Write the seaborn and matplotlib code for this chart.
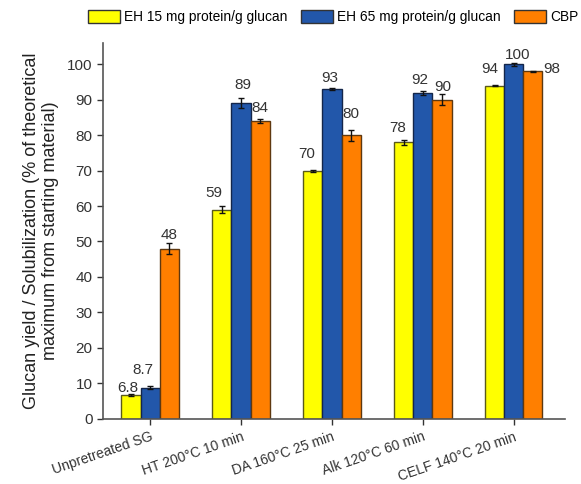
import numpy as np
import pandas as pd
import matplotlib
matplotlib.use("Agg")
import matplotlib.pyplot as plt
from matplotlib.patches import Patch
import seaborn as sns

# Pretreatment conditions (x categories)
conditions = ["Unpretreated SG", "HT 200\u00b0C 10 min", "DA 160\u00b0C 25 min",
              "Alk 120\u00b0C 60 min", "CELF 140\u00b0C 20 min"]
series = ["EH 15 mg protein/g glucan", "EH 65 mg protein/g glucan", "CBP"]

# Glucan yield / solubilization (% of theoretical maximum)
eh15 = [6.8, 59, 70, 78, 94]
eh65 = [8.7, 89, 93, 92, 100]
cbp = [48, 84, 80, 90, 98]

# Standard deviations
eh15_err = [0.3, 0.9, 0.3, 0.7, 0.2]
eh65_err = [0.4, 1.4, 0.3, 0.6, 0.5]
cbp_err = [1.5, 0.5, 1.6, 1.6, 0.2]

# Value labels as printed above the bars
eh15_lbl = ["6.8", "59", "70", "78", "94"]
eh65_lbl = ["8.7", "89", "93", "92", "100"]
cbp_lbl = ["48", "84", "80", "90", "98"]

palette = ["#FFFF00", "#2257AA", "#FF7F00"]
edges = ["#5A5A1A", "#14264A", "#5E3810"]

# Label offsets in pixels (dx, dy) relative to the top of each error bar
eh15_off = [(-3, 6), (-8, 13), (-6, 16), (-6, 12), (-5, 16)]
eh65_off = [(-7, 16), (2, 13), (-2, 10), (-3, 11), (4, 8)]
cbp_off = [(0, 8), (0, 11), (0, 16), (1, 7), (19, 2)]

df = pd.DataFrame({
    "condition": conditions * 3,
    "series": [series[0]] * 5 + [series[1]] * 5 + [series[2]] * 5,
    "value": eh15 + eh65 + cbp,
})

plt.rcParams["font.family"] = ["Liberation Sans", "DejaVu Sans"]
fig = plt.figure(figsize=(5.81, 4.84), dpi=100)
ax = fig.add_axes([0.177, 0.135, 0.795, 0.776])

sns.barplot(data=df, x="condition", y="value", hue="series", order=conditions,
            hue_order=series, palette=palette, width=0.63, errorbar=None,
            saturation=1, ax=ax, legend=False, linewidth=1.0)

errs = [eh15_err, eh65_err, cbp_err]
lbls = [eh15_lbl, eh65_lbl, cbp_lbl]
offs = [eh15_off, eh65_off, cbp_off]
bar_groups = list(ax.containers)[:3]
for k, cont in enumerate(bar_groups):
    for i, bar in enumerate(cont.patches):
        bar.set_edgecolor(edges[k])
        cx = bar.get_x() + bar.get_width() / 2
        h = bar.get_height()
        ax.errorbar(cx, h, yerr=errs[k][i], fmt="none", ecolor="#111111",
                    elinewidth=1.0, capsize=2.5, capthick=1.0, zorder=5)
        dx, dy = offs[k][i]
        ax.annotate(lbls[k][i], (cx, h + errs[k][i]), xytext=(dx, dy),
                    textcoords="offset pixels", ha="center", va="center",
                    fontsize=11, color="#333333")

ax.set_xlim(-0.52, 4.56)
ax.set_ylim(0, 106)
ax.set_yticks(np.arange(0, 101, 10))
ax.set_xlabel("")
ax.set_ylabel("Glucan yield / Solubilization (% of theoretical\nmaximum from starting material)",
              fontsize=13, color="#222222", labelpad=6, linespacing=1.1)
ax.set_xticks(range(len(conditions)))
ax.set_xticklabels(conditions, rotation=19, ha="right", rotation_mode="anchor",
                   fontsize=10, color="#333333")
ax.tick_params(axis="y", labelsize=11, colors="#333333", length=4, width=1, direction="out")
ax.tick_params(axis="x", length=4, width=1, direction="out", colors="#333333", pad=4)
for s in ["top", "right"]:
    ax.spines[s].set_visible(False)
for s in ["left", "bottom"]:
    ax.spines[s].set_color("#555555")
    ax.spines[s].set_linewidth(1.2)

handles = [Patch(facecolor=palette[k], edgecolor="#333333", linewidth=1.0) for k in range(3)]
fig.legend(handles, series, loc="center left", bbox_to_anchor=(0.152, 0.965),
           ncol=3, frameon=False, fontsize=9.9, handlelength=2.3, handleheight=1.15,
           handletextpad=0.3, columnspacing=1.0, borderpad=0, borderaxespad=0)

fig.savefig("out.png", dpi=100)
